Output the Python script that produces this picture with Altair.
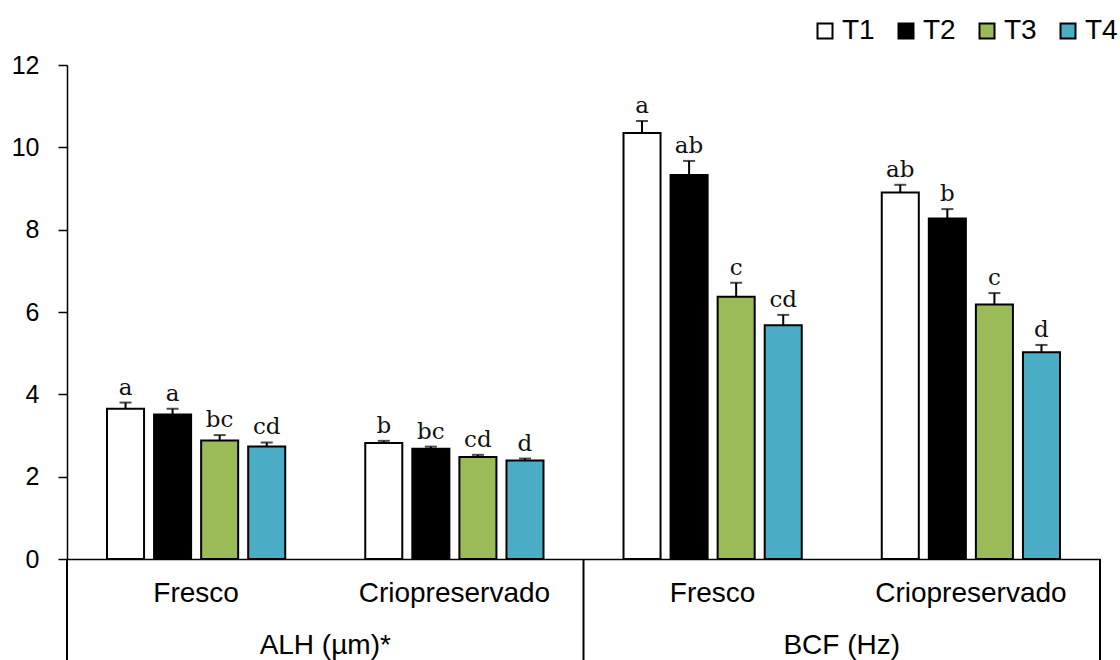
import altair as alt
import pandas as pd

groups = ["ALH (µm)*", "BCF (Hz)"]
states = ["Fresco", "Criopreservado"]
treatments = ["T1", "T2", "T3", "T4"]
colors = ["#FFFFFF", "#000000", "#9BBB59", "#4BACC6"]

means = {
    ("ALH (µm)*", "Fresco"): [3.65, 3.51, 2.88, 2.73],
    ("ALH (µm)*", "Criopreservado"): [2.82, 2.68, 2.48, 2.39],
    ("BCF (Hz)", "Fresco"): [10.35, 9.33, 6.37, 5.68],
    ("BCF (Hz)", "Criopreservado"): [8.90, 8.27, 6.18, 5.02],
}
errors = {
    ("ALH (µm)*", "Fresco"): [0.15, 0.14, 0.13, 0.10],
    ("ALH (µm)*", "Criopreservado"): [0.05, 0.05, 0.05, 0.05],
    ("BCF (Hz)", "Fresco"): [0.29, 0.34, 0.34, 0.25],
    ("BCF (Hz)", "Criopreservado"): [0.19, 0.23, 0.28, 0.18],
}
letters = {
    ("ALH (µm)*", "Fresco"): ["a", "a", "bc", "cd"],
    ("ALH (µm)*", "Criopreservado"): ["b", "bc", "cd", "d"],
    ("BCF (Hz)", "Fresco"): ["a", "ab", "c", "cd"],
    ("BCF (Hz)", "Criopreservado"): ["ab", "b", "c", "d"],
}

cells = [f"{g}|{s}" for g in groups for s in states]

rows = []
for g in groups:
    for s in states:
        for i, t in enumerate(treatments):
            m = means[(g, s)][i]
            e = errors[(g, s)][i]
            rows.append({"cell": f"{g}|{s}", "group": g, "state": s, "trt": t,
                         "mean": m, "top": m + e, "letter": letters[(g, s)][i]})
df = pd.DataFrame(rows)

cell_df = pd.DataFrame([{"cell": c, "state": c.split("|")[1]} for c in cells])
group_df = pd.DataFrame([{"cell": f"{g}|{states[1]}", "group": g} for g in groups])
div_df = pd.DataFrame([{"cell": f"{g}|{states[0]}"} for g in groups])
end_df = pd.DataFrame([{"cell": cells[-1]}])

W, H = 1033, 494
xscale = alt.Scale(domain=cells, paddingInner=0, paddingOuter=0)
xoff_scale = alt.Scale(domain=treatments, paddingInner=0.213, paddingOuter=0.85)
yscale = alt.Scale(domain=[0, 12], nice=False)
xaxis = alt.Axis(labels=False, ticks=False, title=None, domainColor="black", domainWidth=1.5)

base = alt.Chart(df)

bars = base.mark_bar(stroke="black", strokeWidth=2).encode(
    x=alt.X("cell:N", scale=xscale, axis=xaxis, sort=cells),
    xOffset=alt.XOffset("trt:N", scale=xoff_scale, sort=treatments),
    y=alt.Y("mean:Q", scale=yscale,
            axis=alt.Axis(values=[0, 2, 4, 6, 8, 10, 12], grid=False, title=None,
                          domainColor="black", domainWidth=1.5, tickColor="black",
                          tickWidth=1.5, tickSize=9, labelPadding=19,
                          labelFontSize=25, labelFont="Liberation Sans",
                          labelColor="black")),
    fill=alt.Fill("trt:N", scale=alt.Scale(domain=treatments, range=colors),
                  legend=alt.Legend(title=None, orient="none", direction="horizontal",
                                    legendX=744, legendY=-48, symbolType="square",
                                    symbolSize=225, symbolStrokeColor="black",
                                    symbolStrokeWidth=2, labelFontSize=28,
                                    labelFont="Liberation Sans", labelColor="black",
                                    columnPadding=17, labelOffset=3)),
)

err_line = base.mark_rule(color="black", strokeWidth=2).encode(
    x=alt.X("cell:N", scale=xscale, sort=cells),
    xOffset=alt.XOffset("trt:N", scale=xoff_scale, sort=treatments),
    y="mean:Q",
    y2="top:Q",
)
err_cap = base.mark_tick(color="black", thickness=2, size=12, orient="horizontal").encode(
    x=alt.X("cell:N", scale=xscale, sort=cells),
    xOffset=alt.XOffset("trt:N", scale=xoff_scale, sort=treatments),
    y="top:Q",
)
lett = base.mark_text(font="DejaVu Serif", fontSize=23, baseline="bottom", dy=-3,
                      color="#111111").encode(
    x=alt.X("cell:N", scale=xscale, sort=cells),
    xOffset=alt.XOffset("trt:N", scale=xoff_scale, sort=treatments),
    y="top:Q",
    text="letter:N",
)

state_lbl = alt.Chart(cell_df).mark_text(font="Liberation Sans", fontSize=28,
                                         baseline="middle", color="black").encode(
    x=alt.X("cell:N", scale=xscale, sort=cells),
    y=alt.value(H + 35),
    text="state:N",
)
group_lbl = alt.Chart(group_df).mark_text(font="Liberation Sans", fontSize=28,
                                          baseline="middle", color="black").encode(
    x=alt.X("cell:N", scale=xscale, sort=cells, bandPosition=0),
    y=alt.value(H + 87),
    text="group:N",
)
dividers = alt.Chart(div_df).mark_rule(color="black", strokeWidth=2).encode(
    x=alt.X("cell:N", scale=xscale, sort=cells, bandPosition=0),
    y=alt.value(H),
    y2=alt.value(H + 110),
)
end_rule = alt.Chart(end_df).mark_rule(color="black", strokeWidth=2).encode(
    x=alt.X("cell:N", scale=xscale, sort=cells, bandPosition=1),
    y=alt.value(H),
    y2=alt.value(H + 110),
)

chart = alt.layer(bars, err_line, err_cap, lett, state_lbl, group_lbl, dividers, end_rule).properties(
    width=W, height=H,
    autosize=alt.AutoSizeParams(type="none"),
    padding={"left": 67, "top": 65, "right": 20, "bottom": 101},
    background="white",
).configure_view(stroke=None)

chart.save("out.html", embed_options={"renderer": "svg", "actions": False})
